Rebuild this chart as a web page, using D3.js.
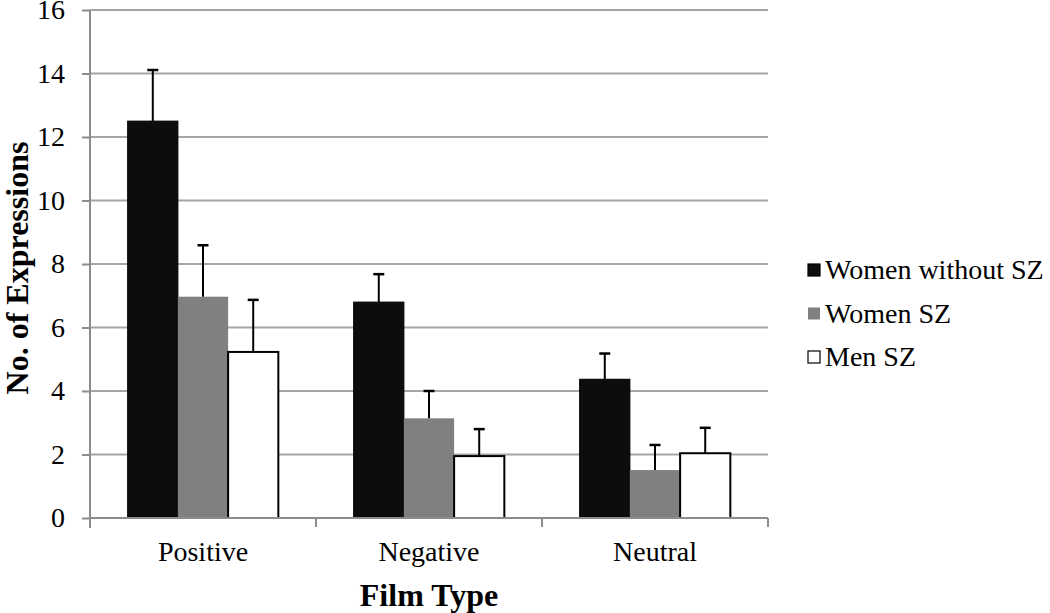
<!DOCTYPE html>
<html><head><meta charset="utf-8">
<script src="https://cdn.jsdelivr.net/npm/d3@7"></script>
<style>body{margin:0;background:#fff}svg{display:block}</style>
</head><body>
<svg id="c" width="1050" height="613"></svg>
<script>
const categories = ["Positive", "Negative", "Neutral"];
const seriesNames = ["Women without SZ", "Women SZ", "Men SZ"];
const womenWithoutSZ = [12.5, 6.8, 4.37];
const womenSZ = [6.97, 3.14, 1.51];
const menSZ = [5.23, 1.95, 2.04];
const errWomenWithoutSZ = [1.61, 0.88, 0.81];
const errWomenSZ = [1.62, 0.86, 0.79];
const errMenSZ = [1.64, 0.85, 0.8];
const yTicks = [0, 2, 4, 6, 8, 10, 12, 14, 16];

const FONT = "'Liberation Serif', 'Times New Roman', serif";
const seriesVals = [womenWithoutSZ, womenSZ, menSZ];
const seriesErr = [errWomenWithoutSZ, errWomenSZ, errMenSZ];
const fills = ["#0d0d0d", "#808080", "#ffffff"];

const svg = d3.select("#c");
const L = 90, R = 768, T = 10, B = 518;
const y = d3.scaleLinear().domain([0, 16]).range([B, T]);
const x0 = d3.scaleBand().domain(categories).range([L, R]).paddingInner(0).paddingOuter(0);
const bw = x0.bandwidth() * 3 / 4.5 / 3;
const x1 = d3.scaleBand().domain(d3.range(3)).range([0, bw * 3]);
const groupOff = (x0.bandwidth() - bw * 3) / 2;

// gridlines
svg.append("g").selectAll("line").data(yTicks.filter(d => d > 0)).join("line")
  .attr("x1", L).attr("x2", R).attr("y1", d => y(d)).attr("y2", d => y(d))
  .attr("stroke", "#a6a6a6").attr("stroke-width", 2);

// y axis
const ya = svg.append("g").attr("transform", `translate(${L},0)`)
  .call(d3.axisLeft(y).tickValues(yTicks).tickSize(8).tickPadding(17));
ya.attr("font-family", null).attr("font-size", null);
ya.select(".domain").attr("stroke", "#8c8c8c").attr("stroke-width", 2).attr("d", `M0,${T}V${B+10}`);
ya.selectAll(".tick line").attr("stroke", "#8c8c8c").attr("stroke-width", 2);
ya.selectAll(".tick text").style("font-size", "28px").style("font-family", FONT).attr("fill", "#000");

// bars
const g = svg.append("g");
categories.forEach((c, i) => {
  seriesVals.forEach((vals, s) => {
    const xb = x0(c) + groupOff + x1(s);
    g.append("rect").attr("x", xb).attr("y", y(vals[i])).attr("width", x1.bandwidth())
      .attr("height", y(0) - y(vals[i])).attr("fill", fills[s])
      .attr("stroke", s === 1 ? "none" : "#000").attr("stroke-width", s === 2 ? 2 : 1);
    const cx = xb + x1.bandwidth() / 2;
    const top = vals[i] + seriesErr[s][i];
    g.append("line").attr("x1", cx).attr("x2", cx).attr("y1", y(vals[i])).attr("y2", y(top))
      .attr("stroke", "#000").attr("stroke-width", 2);
    g.append("line").attr("x1", cx - 5.5).attr("x2", cx + 5.5).attr("y1", y(top)).attr("y2", y(top))
      .attr("stroke", "#000").attr("stroke-width", 2.5);
  });
});

// x axis
const xa = svg.append("g").attr("transform", `translate(0,${B})`)
  .call(d3.axisBottom(x0).tickSize(0).tickPadding(23));
xa.attr("font-family", null).attr("font-size", null);
xa.select(".domain").remove();
xa.selectAll(".tick text").style("font-size", "28px").style("font-family", FONT).attr("fill", "#000");
svg.append("line").attr("x1", L).attr("x2", R).attr("y1", B).attr("y2", B)
  .attr("stroke", "#8c8c8c").attr("stroke-width", 2);
svg.append("g").selectAll("line").data(categories).join("line")
  .attr("x1", d => x0(d) + x0.bandwidth()).attr("x2", d => x0(d) + x0.bandwidth())
  .attr("y1", B).attr("y2", B + 9).attr("stroke", "#8c8c8c").attr("stroke-width", 2);

// titles
svg.append("text").attr("x", (L + R) / 2).attr("y", 606).attr("text-anchor", "middle")
  .style("font-family", FONT).style("font-size", "32px").style("font-weight", "bold").text("Film Type");
svg.append("text").attr("transform", `translate(28,${(T + B) / 2 + 4}) rotate(-90)`)
  .attr("text-anchor", "middle").style("font-family", FONT).style("font-size", "32px")
  .style("font-weight", "bold").text("No. of Expressions");

// legend
const lg = svg.append("g").attr("transform", "translate(808,270)");
seriesNames.forEach((n, s) => {
  const row = lg.append("g").attr("transform", `translate(0,${s * 43.5})`);
  row.append("rect").attr("x", 0).attr("y", -6).attr("width", 12).attr("height", 12)
    .attr("fill", fills[s]).attr("stroke", s === 1 ? "none" : "#000").attr("stroke-width", 1.2);
  row.append("text").attr("x", 17).attr("y", 9).style("font-family", FONT).style("font-size", "28px").text(n);
});
</script>
</body></html>
